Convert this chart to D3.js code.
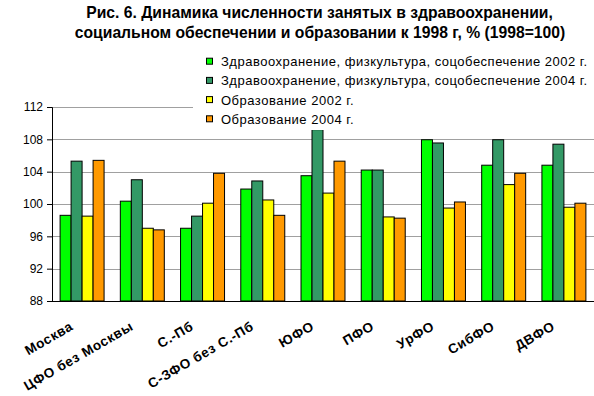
<!DOCTYPE html>
<html>
<head>
	<meta charset="UTF-8">
	<title>Рис. 6</title>
	<script type="text/javascript" src="https://cdn.jsdelivr.net/npm/d3@7"></script>
	<style>
		body { margin: 0; background: #fff; }
		text { font-family: Arial, "Liberation Sans", sans-serif; fill: #000; }
	</style>
</head>
<body>

<script type="text/javascript">
	var w = 594;
	var h = 396;

	var categories = ["Москва", "ЦФО без Москвы", "С.-Пб", "С-ЗФО без С.-Пб", "ЮФО", "ПФО", "УрФО", "СибФО", "ДВФО"];
	var seriesNames = [
		"Здравоохранение, физкультура, соцобеспечение 2002 г.",
		"Здравоохранение, физкультура, соцобеспечение 2004 г.",
		"Образование 2002 г.",
		"Образование 2004 г."
	];
	var health2002 = [98.6, 100.35, 97.0, 101.85, 103.5, 104.2, 107.95, 104.8, 104.8];
	var health2004 = [105.3, 103.0, 98.5, 102.85, 109.2, 104.2, 107.55, 107.95, 107.4];
	var edu2002 = [98.5, 97.0, 100.1, 100.5, 101.35, 98.4, 99.5, 102.4, 99.6];
	var edu2004 = [105.4, 96.8, 103.8, 98.6, 105.3, 98.25, 100.25, 103.8, 100.1];
	var yTicks = [88, 92, 96, 100, 104, 108, 112];
	var colors = ["#00ff00", "#339966", "#ffff00", "#ff9900"];

	var series = [health2002, health2004, edu2002, edu2004];

	var margin = {top: 107, left: 52, right: 0, bottom: 95};
	var width = w - margin.left - margin.right;
	var height = h - margin.top - margin.bottom;

	var x = d3.scaleBand()
		.domain(categories)
		.range([0, width])
		.paddingInner(16.25 / 60.25)
		.paddingOuter(8.1 / 60.25);

	var x1 = d3.scaleBand()
		.domain(d3.range(series.length))
		.range([0, x.bandwidth()]);

	var y = d3.scaleLinear()
		.domain([88, 112])
		.range([height, 0]);

	var svg = d3.select("body")
		.append("svg")
		.attr("width", w)
		.attr("height", h);

	// title
	var title = svg.append("text")
		.attr("text-anchor", "middle")
		.attr("font-weight", "bold")
		.attr("font-size", 15.7);
	title.append("tspan").attr("x", 319.5).attr("y", 18)
		.text("Рис. 6. Динамика численности занятых в здравоохранении,");
	title.append("tspan").attr("x", 320).attr("y", 37.5)
		.text("социальном обеспечении и образовании к 1998 г, % (1998=100)");

	var chart = svg.append("g")
		.attr("transform", "translate(" + margin.left + "," + margin.top + ")");

	// gridlines
	chart.append("g")
		.selectAll("line")
		.data(yTicks.slice(1))
		.enter()
		.append("line")
		.attr("x1", 0)
		.attr("x2", width)
		.attr("y1", function(d){ return Math.round(y(d)) + 0.5; })
		.attr("y2", function(d){ return Math.round(y(d)) + 0.5; })
		.attr("stroke", "#a0a0a0");

	// bars
	var groups = chart.append("g")
		.selectAll("g")
		.data(categories)
		.enter()
		.append("g")
		.attr("transform", function(d){ return "translate(" + x(d) + ",0)"; });

	groups.selectAll("rect")
		.data(function(d, i){ return series.map(function(s, j){ return {j: j, v: s[i]}; }); })
		.enter()
		.append("rect")
		.attr("x", function(d){ return x1(d.j); })
		.attr("y", function(d){ return y(d.v); })
		.attr("width", x1.bandwidth())
		.attr("height", function(d){ return y(88) - y(d.v); })
		.attr("fill", function(d){ return colors[d.j]; })
		.attr("stroke", "#000")
		.attr("stroke-width", 1);

	// y axis
	var yAxis = chart.append("g")
		.call(d3.axisLeft(y).tickValues(yTicks).tickSize(5).tickPadding(4).tickFormat(d3.format("d")));
	yAxis.select(".domain").attr("stroke", "#000");
	yAxis.selectAll("text").attr("font-size", 12).attr("font-family", "Arial, 'Liberation Sans', sans-serif");

	// x axis line
	chart.append("line")
		.attr("x1", 0).attr("x2", width)
		.attr("y1", height + 0.5).attr("y2", height + 0.5)
		.attr("stroke", "#000");

	// category labels
	chart.append("g")
		.selectAll("text")
		.data(categories)
		.enter()
		.append("text")
		.attr("transform", function(d){
			return "translate(" + (x(d) + x.bandwidth() / 2 - 8) + "," + (height + 28) + ") rotate(-30)";
		})
		.attr("text-anchor", "end")
		.attr("font-weight", "bold")
		.attr("font-size", 13.5)
		.attr("letter-spacing", 0.6)
		.text(function(d){ return d; });

	// legend
	var legend = svg.append("g").attr("transform", "translate(193,50)");
	legend.append("rect")
		.attr("width", w - 193).attr("height", 80)
		.attr("fill", "#fff");
	var items = legend.selectAll(".item")
		.data(seriesNames)
		.enter()
		.append("g")
		.attr("transform", function(d, i){ return "translate(0," + (11.7 + i * 19.2) + ")"; });
	items.append("rect")
		.attr("x", 13.5).attr("y", -3.5)
		.attr("width", 6).attr("height", 6)
		.attr("fill", function(d, i){ return colors[i]; })
		.attr("stroke", "#000");
	items.append("text")
		.attr("x", 28)
		.attr("y", 4.5)
		.attr("font-size", 13)
		.attr("letter-spacing", 0.5)
		.text(function(d){ return d; });
</script>

</body>
</html>
